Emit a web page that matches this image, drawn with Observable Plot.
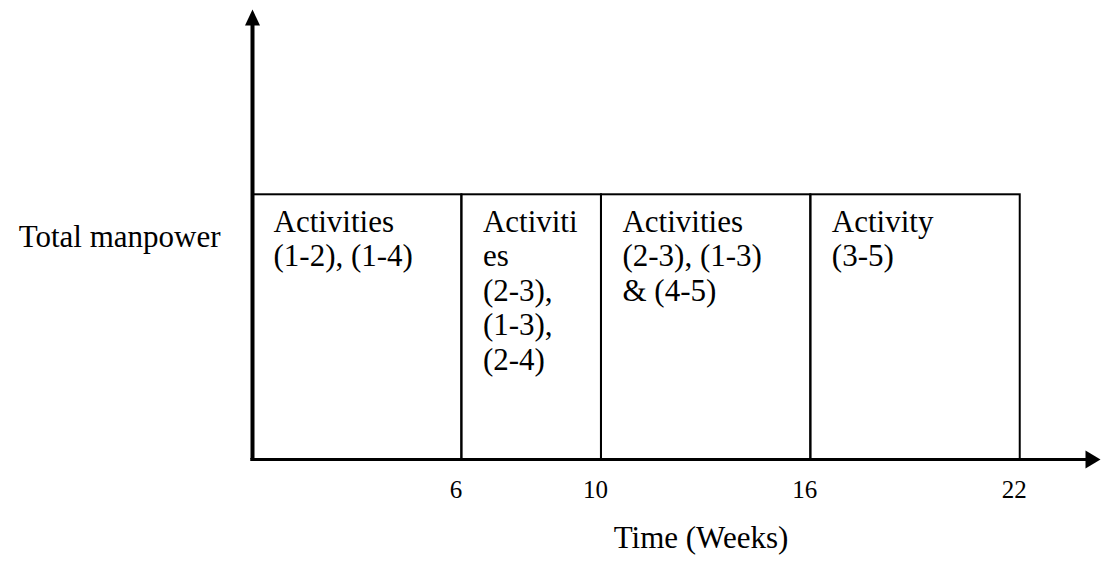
<!DOCTYPE html>
<html>
<head>
<meta charset="utf-8">
<script src="https://cdn.jsdelivr.net/npm/d3@7"></script>
<script src="https://cdn.jsdelivr.net/npm/@observablehq/plot@0.6"></script>
<style>
  html, body { margin: 0; padding: 0; background: #fff; }
  #chart svg { display: block; }
  #xtitle {
    width: 1101px; box-sizing: border-box; padding-left: 301px;
    text-align: center; font-family: "Liberation Serif", "Times New Roman", serif;
    font-size: 31px; line-height: 46px; color: #000;
  }
</style>
</head>
<body>
<div id="chart"></div>
<div id="xtitle"></div>
<script>
// ---- data ----
const starts = [0, 6, 10, 16];          // week each period begins
const ends = [6, 10, 16, 22];           // week each period ends
const manpower = [1, 1, 1, 1];          // total manpower level (constant)
const labels = [
  "Activities\n(1-2), (1-4)",
  "Activiti\nes\n(2-3),\n(1-3),\n(2-4)",
  "Activities\n(2-3), (1-3)\n& (4-5)",
  "Activity\n(3-5)"
];
const tickWeeks = [6, 10, 16, 22];
const xTitle = "Time (Weeks)";
const yTitle = "Total manpower";
const xMax = 24.3;   // end of time axis (arrow tip)
const yMax = 1.7;    // end of manpower axis (arrow tip)

const periods = starts.map((s, i) => ({start: s, end: ends[i], manpower: manpower[i], label: labels[i]}));
// one record per label line, so each line is its own single-line text element
const lines = periods.flatMap(p => p.label.split("\n").map((t, k) => ({start: p.start, manpower: p.manpower, line: t, k})));
const maxLines = d3.max(lines, d => d.k) + 1;

const serif = "Liberation Serif, Times New Roman, serif";

const lineMarks = d3.range(maxLines).map(k =>
  Plot.text(lines.filter(d => d.k === k), {
    x: "start", y: "manpower", text: "line",
    textAnchor: "start", lineAnchor: "top", dx: 21, dy: 15 + k * 34.5,
    fontSize: 31, fill: "#000", fontFamily: serif
  })
);

const chart = Plot.plot({
  width: 1101,
  height: 515,
  marginLeft: 252,
  marginRight: 1,
  marginTop: 9,
  marginBottom: 56,
  style: {fontFamily: serif, background: "#fff", color: "#000"},
  x: {domain: [0, xMax]},
  y: {domain: [0, yMax], axis: null},
  marks: [
    Plot.rect(periods, {x1: "start", x2: "end", y1: 0, y2: "manpower", fill: "none", stroke: "#000", strokeWidth: 2}),
    ...lineMarks,
    // axes lines and arrowheads
    Plot.ruleX([0], {y1: 0, y2: yMax - 0.03, stroke: "#000", strokeWidth: 4}),
    Plot.ruleY([0], {x1: -0.05, x2: xMax - 0.2, stroke: "#000", strokeWidth: 3}),
    Plot.vector([yMax], {x: 0, y: d => d, shape: "spike", anchor: "end", length: 16, r: 7.5, rotate: 0, fill: "#000", stroke: "none"}),
    Plot.vector([xMax], {x: d => d, y: 0, shape: "spike", anchor: "end", length: 15, r: 9, rotate: 90, fill: "#000", stroke: "none"}),
    // tick labels
    Plot.axisX(tickWeeks, {tickSize: 0, tickPadding: 21, fontSize: 25, fontFamily: serif, dx: -6, label: null, fill: "#000"}),
    // y title
    Plot.text([yTitle], {frameAnchor: "left", textAnchor: "end", lineAnchor: "middle", dx: -32, dy: 3, fontSize: 31, fontFamily: serif, fill: "#000"})
  ]
});
d3.select(chart).selectAll("text").attr("font-family", serif).style("font-variant", "normal");
document.getElementById("chart").appendChild(chart);
document.getElementById("xtitle").textContent = xTitle;
</script>
</body>
</html>
